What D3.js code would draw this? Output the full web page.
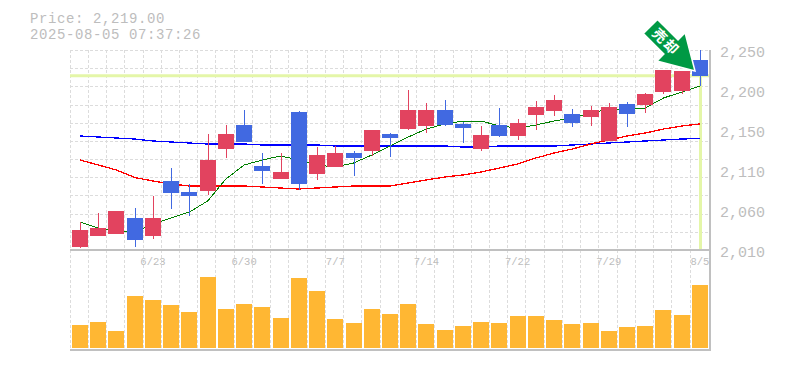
<!DOCTYPE html>
<html>
<head>
<meta charset="utf-8">
<script src="https://d3js.org/d3.v7.min.js"></script>
<style>
html, body { margin: 0; padding: 0; background: #fff; }
svg { display: block; }
text { font-family: "Liberation Mono", monospace; fill: #bdbdbd; }
</style>
</head>
<body>
<svg id="chart" width="785" height="370"></svg>
<script>
const dates = ["6/17", "6/18", "6/19", "6/20", "6/23", "6/24", "6/25", "6/26", "6/27", "6/30", "7/1", "7/2", "7/3", "7/4", "7/7", "7/8", "7/9", "7/10", "7/11", "7/14", "7/15", "7/16", "7/17", "7/18", "7/22", "7/23", "7/24", "7/25", "7/28", "7/29", "7/30", "7/31", "8/1", "8/4", "8/5"];
const dateLabels = ["6/23", "6/30", "7/7", "7/14", "7/22", "7/29", "8/5"];

const open = [2013.6, 2026.8, 2029.2, 2048.4, 2026.8, 2092.8, 2079.6, 2080.8, 2131.2, 2160, 2110.8, 2095.2, 2175.6, 2101.2, 2109.6, 2126.4, 2128.8, 2149.2, 2155.2, 2158.8, 2178, 2161.2, 2131.2, 2160, 2146.8, 2172, 2176.8, 2173.2, 2169.6, 2140.8, 2185.2, 2184, 2199.6, 2200.8, 2238];
const close = [2034, 2036.4, 2056.8, 2022, 2048.4, 2078.4, 2074.8, 2118, 2149.2, 2139.6, 2104.8, 2103.6, 2089.2, 2124, 2126.4, 2120.4, 2154, 2144.4, 2178, 2178, 2160, 2156.4, 2148, 2146.8, 2162.4, 2181.6, 2190, 2162.4, 2178, 2181.6, 2173.2, 2197.2, 2226, 2224.8, 2218.8];
const high = [2043.6, 2054.4, 2056.8, 2060.4, 2074.8, 2108.4, 2089.2, 2149.2, 2160, 2178, 2126.4, 2126.4, 2176.8, 2133.6, 2134.8, 2128.8, 2154, 2150.4, 2202, 2186.4, 2190, 2163.6, 2158.8, 2180.4, 2167.2, 2188.8, 2196, 2179.2, 2182.8, 2186.4, 2187.6, 2198.4, 2226, 2224.8, 2250];
const low = [2012.4, 2026.8, 2029.2, 2013.6, 2023.2, 2059.2, 2050.8, 2076, 2120.4, 2139.6, 2089.2, 2095.2, 2082, 2094, 2109.6, 2098.8, 2122.8, 2121.6, 2154, 2150.4, 2158.8, 2138.4, 2128.8, 2145.6, 2142, 2154, 2170.8, 2157.6, 2158.8, 2140.8, 2157.6, 2174.4, 2197.2, 2197.2, 2206.8];

const maShort = [2043.6, 2036.4, 2032.8, 2031.6, 2041.2, 2048.4, 2055.6, 2068.8, 2095.2, 2112, 2118, 2122.8, 2118, 2112, 2109.6, 2114.4, 2124, 2134.8, 2145.6, 2155.2, 2161.2, 2164.8, 2164.8, 2158.8, 2156.4, 2160, 2164.8, 2168.4, 2174.4, 2179.2, 2179.2, 2180.4, 2192.4, 2199.6, 2206.8];
const maMid = [2118, 2112, 2106, 2097, 2092.8, 2089.2, 2086.8, 2086.8, 2086.8, 2086.8, 2085.6, 2084.4, 2083.2, 2084.4, 2085.6, 2086.8, 2086.8, 2086.8, 2090.4, 2094, 2097.6, 2100, 2103.6, 2108.4, 2113.2, 2120.4, 2126.4, 2131.2, 2137.2, 2142, 2146.8, 2150.4, 2155.2, 2158.8, 2161.2];
const maLong = [2146.8, 2145.6, 2144.4, 2143.2, 2140.8, 2139.6, 2138.4, 2137.2, 2137.2, 2137.2, 2136, 2136, 2136, 2136, 2134.8, 2134.8, 2134.8, 2134.8, 2134.8, 2134.8, 2134.8, 2133.6, 2133.6, 2134.8, 2134.8, 2134.8, 2134.8, 2136, 2137.2, 2138.4, 2139.6, 2140.8, 2142, 2143.2, 2143.8];

const volume = [23, 26, 17, 52, 48, 43, 36, 71, 39, 44, 41, 30, 70, 57, 29, 25, 39, 34, 44, 24, 18, 22, 26, 25, 32, 32, 28, 24, 25, 17, 21, 22, 38, 33, 63];

const price = 2219;
const priceTitle = "Price: 2,219.00";
const timeTitle = "2025-08-05 07:37:26";
const arrowLabel = "売却";
const priceTicks = [2250, 2202, 2154, 2106, 2058, 2010];
const priceTickLabels = ["2,250", "2,200", "2,150", "2,110", "2,060", "2,010"];
const gridRows = d3.range(12);

const upColor = "#e2435f";
const downColor = "#4169e1";
const gridColor = "#dcdcdc";
const frameColor = "#c0c0c0";
const priceLineColor = "#e4f6a8";

const svg = d3.select("#chart");

const x = d3.scaleBand().domain(dates).range([70.9, 709.1]).paddingInner(0.12).paddingOuter(0.06);
const cx = d => x(d) + x.bandwidth() / 2;
const bx = d => Math.round(x(d));
const y = d3.scaleLinear().domain([2010, 2250]).range([250, 50]);
const yVol = d3.scaleLinear().domain([0, 98]).range([348, 250]);

// grid
const grid = svg.append("g").attr("stroke", gridColor).attr("stroke-dasharray", "3,2").attr("shape-rendering", "crispEdges");
dates.forEach(d => {
    let gx = Math.floor(x(d) - 1.9) + 0.5;
    grid.append("line").attr("x1", gx).attr("x2", gx).attr("y1", 50).attr("y2", 350);
});
gridRows.forEach(i => {
    let gy = Math.round(50 + i * 200 / 11) + 0.5;
    grid.append("line").attr("x1", 70).attr("x2", 710).attr("y1", gy).attr("y2", gy);
});

// current price lines
svg.append("line")
    .attr("x1", 70).attr("x2", 710)
    .attr("y1", y(price)).attr("y2", y(price))
    .attr("stroke", priceLineColor).attr("stroke-width", 3);
svg.append("line")
    .attr("x1", cx("8/5") + 0.5).attr("x2", cx("8/5") + 0.5)
    .attr("y1", y(price)).attr("y2", 249)
    .attr("stroke", priceLineColor).attr("stroke-width", 3);

// moving averages
let line = d3.line().x((d, i) => cx(dates[i])).y(d => y(d));
[[maLong, "#0000ff", 1.3], [maMid, "#ff0000", 1.3], [maShort, "#008000", 1]].forEach(m => {
    svg.append("path")
        .attr("d", line(m[0]))
        .attr("fill", "none")
        .attr("stroke", m[1])
        .attr("stroke-width", m[2])
        .attr("shape-rendering", "crispEdges");
});

// candles
dates.forEach((d, i) => {
    let c = close[i] >= open[i] ? upColor : downColor;
    svg.append("line")
        .attr("x1", bx(d) + 8.5).attr("x2", bx(d) + 8.5)
        .attr("y1", y(high[i])).attr("y2", y(low[i]))
        .attr("stroke", c).attr("stroke-width", 1)
        .attr("shape-rendering", "crispEdges");
    svg.append("rect")
        .attr("x", bx(d))
        .attr("y", y(Math.max(open[i], close[i])))
        .attr("width", 16)
        .attr("height", Math.abs(y(open[i]) - y(close[i])))
        .attr("fill", c)
        .attr("shape-rendering", "crispEdges");
});

// volume
svg.append("g").selectAll("rect")
    .data(volume)
    .enter()
    .append("rect")
    .attr("x", (d, i) => bx(dates[i]))
    .attr("y", d => yVol(d))
    .attr("width", 16)
    .attr("height", d => yVol(0) - yVol(d))
    .attr("fill", "#ffb733")
    .attr("shape-rendering", "crispEdges");

// frame
[[70, 250, 710, 250], [70, 350, 710, 350], [710, 50, 710, 351]].forEach(f => {
    svg.append("line")
        .attr("x1", f[0]).attr("y1", f[1]).attr("x2", f[2]).attr("y2", f[3])
        .attr("stroke", frameColor).attr("stroke-width", 2);
});

// axis labels
priceTicks.forEach((t, i) => {
    svg.append("text")
        .attr("x", 720)
        .attr("y", y(t) + 7)
        .attr("font-size", 15)
        .text(priceTickLabels[i]);
});
dateLabels.forEach(d => {
    svg.append("text")
        .attr("x", cx(d))
        .attr("y", 265)
        .attr("text-anchor", "middle")
        .attr("font-size", 10.5)
        .text(d);
});

// title
svg.append("text").attr("x", 30).attr("y", 22.5).attr("font-size", 14).attr("letter-spacing", 0.6).text(priceTitle);
svg.append("text").attr("x", 30).attr("y", 38.5).attr("font-size", 14).attr("letter-spacing", 0.6).text(timeTitle);

// arrow, rotated so it points at the last candle
let arrow = svg.append("g").attr("transform", "translate(695,71) rotate(45)");
arrow.append("path")
    .attr("d", "M0,0 L-34,20 L-34,10 L-63,10 L-63,-10 L-34,-10 L-34,-20 Z")
    .attr("fill", "#009944")
    .attr("stroke", "#fff")
    .attr("stroke-width", 1.5);
arrow.append("text")
    .attr("x", -41)
    .attr("y", 5)
    .attr("text-anchor", "middle")
    .attr("font-size", 14)
    .attr("font-weight", "bold")
    .attr("letter-spacing", 2)
    .style("font-family", '"Noto Sans CJK JP", sans-serif')
    .style("fill", "#fff")
    .text(arrowLabel);
</script>
</body>
</html>
